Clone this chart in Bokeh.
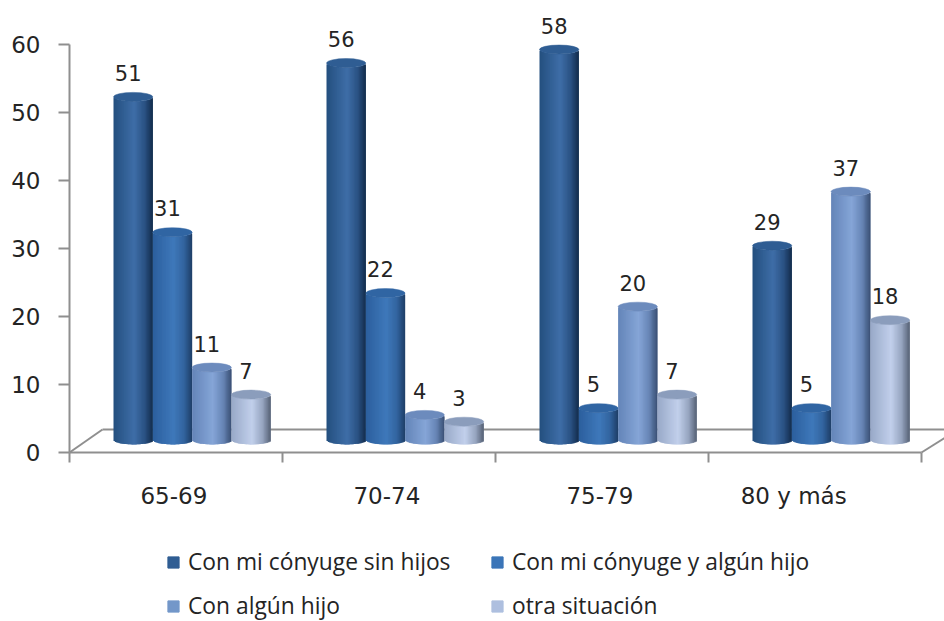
import numpy as np
from bokeh.embed import file_html
from bokeh.resources import INLINE
from bokeh.plotting import figure
from bokeh.models import FixedTicker, Range1d, Legend, LegendItem
from bokeh.core.properties import value

categories = ["65-69", "70-74", "75-79", "80 y más"]
category_label_pos = [0.49, 1.49, 2.49, 3.40]
series_names = ["Con mi cónyuge sin hijos", "Con mi cónyuge y algún hijo", "Con algún hijo", "otra situación"]
sin_hijos = [51, 56, 58, 29]
algun_hijo_conyuge = [31, 22, 5, 5]
algun_hijo = [11, 4, 20, 37]
otra = [7, 3, 7, 18]
series = [sin_hijos, algun_hijo_conyuge, algun_hijo, otra]

# shading of each cylinder: left edge, highlight, right edge, cap, legend swatch
shades = [
    ("#24507f", "#3f6ea8", "#1b3d68", "#2f5d93", "#2f5d93"),
    ("#2c5f9e", "#3f79bb", "#29548a", "#3065a3", "#3b75b8"),
    ("#6485b8", "#86a6d8", "#4f6c9b", "#6c8bbd", "#7397c9"),
    ("#98a9c8", "#c2d0ec", "#75849e", "#8b9dbc", "#aebfdf"),
]

W, H = 944, 621
LEFT, ZERO_Y = 69, 452
PX_X, PX_Y = 213.0, 6.8
x_start = -LEFT / PX_X
x_end = (W - LEFT) / PX_X
y_end = ZERO_Y / PX_Y
y_start = -(H - ZERO_Y) / PX_Y

p = figure(width=W, height=H, output_backend="svg", toolbar_location=None,
           x_range=Range1d(x_start, x_end), y_range=Range1d(y_start, y_end),
           min_border_left=0, min_border_right=0, min_border_top=0,
           min_border_bottom=0, background_fill_color="white",
           border_fill_color="white", outline_line_color=None)
p.styles = {"position": "absolute", "left": "0px", "top": "0px"}
p.grid.visible = False

AXC = "#8f8f8f"
TXT = "#242424"
p.yaxis.fixed_location = 0
p.yaxis.ticker = FixedTicker(ticks=list(range(0, 61, 10)))
p.yaxis.bounds = (0, 60)
p.yaxis.major_tick_out = 11
p.yaxis.major_tick_in = 0
p.yaxis.minor_tick_line_color = None
p.yaxis.major_label_standoff = 18
p.yaxis.major_label_text_font = "DejaVu Sans"
p.yaxis.major_label_text_font_size = "23px"
p.yaxis.major_label_text_color = TXT
p.yaxis.axis_line_color = AXC
p.yaxis.axis_line_width = 2
p.yaxis.major_tick_line_color = AXC
p.yaxis.major_tick_line_width = 2

p.xaxis.fixed_location = 0
p.xaxis.ticker = FixedTicker(ticks=category_label_pos, minor_ticks=list(range(len(categories) + 1)))
p.xaxis.major_label_overrides = dict(zip(category_label_pos, categories))
p.xaxis.bounds = (0, len(categories))
p.xaxis.major_tick_line_color = None
p.xaxis.major_tick_out = 0
p.xaxis.major_tick_in = 0
p.xaxis.minor_tick_out = 10
p.xaxis.minor_tick_in = 0
p.xaxis.minor_tick_line_color = AXC
p.xaxis.minor_tick_line_width = 2
p.xaxis.major_label_standoff = 20
p.xaxis.major_label_text_font = "DejaVu Sans"
p.xaxis.major_label_text_font_size = "23px"
p.xaxis.major_label_text_color = TXT
p.xaxis.axis_line_color = AXC
p.xaxis.axis_line_width = 2

# floor of the 3D box
dx, dy = 33 / PX_X, 23 / PX_Y
n = len(categories)
p.multi_line([[0, dx], [dx, x_end + 0.1], [n, n + dx]], [[0, dy], [dy, dy], [0, dy * 0.9]],
             line_color=AXC, line_width=2)

TOP_BASE = 1.55
FOOT = 1.85
FORE = 0.995
bar_w = 39.3 / PX_X
start = 44 / PX_X
cap_h = 9 / PX_Y
STRIPS = 30
edges = np.linspace(-1, 1, STRIPS + 1)
mids = (edges[:-1] + edges[1:]) / 2

def hex2rgb(c):
    return np.array([int(c[i:i + 2], 16) for i in (1, 3, 5)], float)

label_x, label_y, label_t = [], [], []
legend_renderers = []
for s, vals in enumerate(series):
    l, m, r, cap, sw = shades[s]
    L, M, R = hex2rgb(l), hex2rgb(m), hex2rgb(r)
    cols = []
    for t in mids:
        f = [np.interp(t, [-1, 0.05, 1], [L[k], M[k], R[k]]) for k in range(3)]
        if t > 0.6:
            f = [f[k] * (1 - 0.25 * (t - 0.6) / 0.4) for k in range(3)]
        cols.append("#%02x%02x%02x" % tuple(int(v) for v in f))
    left, right, top, bottom, colors = [], [], [], [], []
    cap_x, cap_y = [], []
    for c, v in enumerate(vals):
        cx = c + start + bar_w * (s + 0.5)
        yt = TOP_BASE + v * FORE
        for i, t in enumerate(mids):
            sag = cap_h / 2 * np.sqrt(1 - t * t)
            left.append(cx + edges[i] * bar_w / 2)
            right.append(cx + edges[min(i + 2, STRIPS)] * bar_w / 2)
            top.append(yt - sag)
            bottom.append(FOOT - sag)
            colors.append(cols[i])
        cap_x.append(cx)
        cap_y.append(yt)
        label_x.append(cx)
        label_y.append(yt)
        label_t.append(str(v))
    p.quad(left=left, right=right, top=top, bottom=bottom, fill_color=colors, line_color=None)
    p.ellipse(x=cap_x, y=cap_y, width=bar_w, height=cap_h, fill_color=cap, line_color=cap, line_width=0.5)
    # zero-size key mark: only its colour is used, by the legend swatch
    legend_renderers.append(p.quad(left=[x_start - 1], right=[x_start - 1], top=[0], bottom=[0],
                                   fill_color=sw, line_color=sw))

p.text(x=label_x, y=label_y, text=label_t, x_offset=-5, y_offset=-24,
       text_font=value("DejaVu Sans"), text_font_size="21px", text_color=TXT,
       text_align="center", text_baseline="middle")

legend = Legend(items=[LegendItem(label=value(nm), renderers=[r]) for nm, r in zip(series_names, legend_renderers)],
                orientation="horizontal", ncols=2, location=(166, 0), margin=0, padding=0,
                border_line_color=None, background_fill_alpha=0,
                glyph_width=14, glyph_height=14, label_standoff=8, label_width=289,
                label_text_font="Open Sans", label_text_font_size="22.8px", label_text_color=TXT,
                spacing=13, label_height=31)
p.add_layout(legend, "center")

open("out.html", "w").write(file_html(p, INLINE))
